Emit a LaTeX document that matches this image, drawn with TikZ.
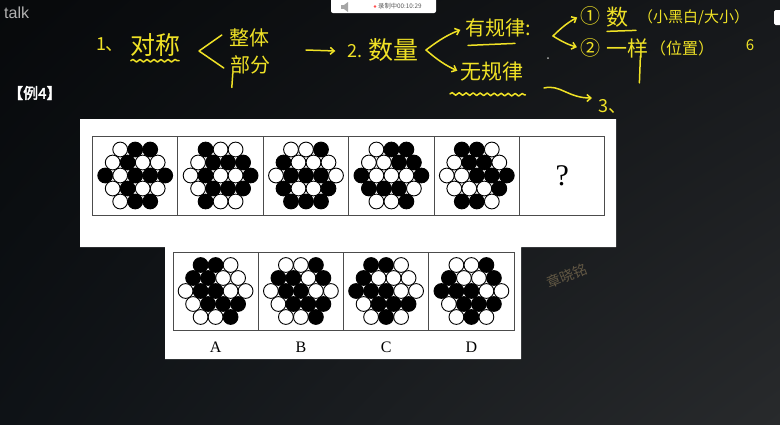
\documentclass[tikz,border=0pt]{standalone}
\usepackage{fontspec}
\setmainfont{Liberation Serif}
\newfontfamily\cjk{Noto Sans CJK SC}
\newfontfamily\cjkbold[FakeBold=2.5]{Noto Sans CJK SC}
\newfontfamily\uifont{Liberation Sans}
\usepackage{tikz}
\usetikzlibrary{calc,arrows.meta,decorations.pathmorphing,shadings}

\definecolor{marker}{RGB}{240,226,38}
\definecolor{stamp}{RGB}{98,88,68}
\definecolor{bgA}{RGB}{7,9,11}
\definecolor{bgB}{RGB}{22,24,27}
\definecolor{bgC}{RGB}{14,18,22}
\definecolor{bgD}{RGB}{40,42,44}

% 19 pebbles round a centre: rows of 3,4,5,4,3
\newcommand\hexdots[6]{%
  \foreach \s [count=\k] in {#2} \node[pebble,\s] (#1-a\k) at ($(#1)+(\k*15-30,-26)$) {};
  \foreach \s [count=\k] in {#3} \node[pebble,\s] (#1-b\k) at ($(#1)+(\k*15-37.5,-13)$) {};
  \foreach \s [count=\k] in {#4} \node[pebble,\s] (#1-c\k) at ($(#1)+(\k*15-45,0)$) {};
  \foreach \s [count=\k] in {#5} \node[pebble,\s] (#1-d\k) at ($(#1)+(\k*15-37.5,13)$) {};
  \foreach \s [count=\k] in {#6} \node[pebble,\s] (#1-e\k) at ($(#1)+(\k*15-30,26)$) {};
}

\begin{document}
\begin{tikzpicture}[x=1pt,y=-1pt]

\tikzset{pebble/.style = {circle,draw,line width=0.9pt,minimum size=14.8pt,inner sep=0pt}}
\tikzset{wh/.style = {fill=white}, bk/.style = {fill=black}}
\tikzset{cell/.style = {draw=black!70,line width=1pt,fill=white,minimum width=85.4pt,minimum height=79pt,inner sep=0pt}}
\tikzset{scrawl/.style = {text=marker,inner sep=0pt,font=\cjk\fontsize{#1}{#1}\selectfont}, scrawl/.default=20}
\tikzset{stroke/.style = {draw=marker,line width=1.5pt,line cap=round,line join=round}}
\tikzset{edge/.style = {stroke,-{Straight Barb[length=4pt,width=7pt]}}}
\tikzset{wavy/.style = {stroke,decorate,decoration={snake,amplitude=1.3pt,segment length=7pt}}}

% backdrop
\shade[upper left=bgA,upper right=bgB,lower left=bgC,lower right=bgD] (0,0) rectangle (780,424);
\useasboundingbox (0,0) rectangle (780,424);

% screen furniture
\node[anchor=west,inner sep=0pt,text=gray!60,font=\uifont\fontsize{16}{16}\selectfont] (app) at (4,13) {talk};
\node[fill=white,rounded corners=2pt,minimum width=105pt,minimum height=18pt,inner sep=0pt] (rec) at (383.5,4) {};
\fill[gray!70] (341,5) rectangle (344,9);
\fill[gray!70] (344,5) -- (348,2) -- (348,12) -- (344,9) -- cycle;
\fill[red!70] (375,6.5) circle (1.4pt);
\node[anchor=west,inner sep=0pt,text=black!65,font=\cjk\fontsize{6.3}{6.3}\selectfont] (clock) at (378,6.5) {录制中00:10:29};
\fill[white,rounded corners=1.5pt] (774,10) rectangle (786,25);
\node[anchor=west,inner sep=0pt,text=white,font=\cjkbold\fontsize{15}{15}\selectfont] (ex) at (8,93) {【例4】};

% the sheet
\fill[white] (80,119) -- (616,119) -- (616,247) -- (521,247) -- (521,359) -- (165,359) -- (165,247) -- (80,247) -- cycle;

% question row
\foreach \name/\x in {q1/135.2,q2/220.6,q3/306,q4/391.4,q5/476.8,q6/562.2}
  \node[cell] (\name) at (\x,175.5) {};
\hexdots{q1}{wh,bk,bk}{wh,bk,wh,wh}{bk,wh,bk,bk,bk}{wh,bk,wh,wh}{wh,bk,bk}
\hexdots{q2}{bk,wh,wh}{wh,bk,bk,bk}{wh,bk,wh,wh,bk}{wh,bk,bk,bk}{bk,wh,wh}
\hexdots{q3}{wh,wh,bk}{bk,wh,wh,wh}{wh,bk,bk,bk,wh}{bk,wh,wh,bk}{bk,bk,bk}
\hexdots{q4}{wh,bk,bk}{wh,wh,bk,bk}{bk,wh,wh,wh,bk}{bk,bk,bk,wh}{wh,wh,bk}
\hexdots{q5}{bk,bk,wh}{wh,bk,bk,wh}{wh,wh,bk,bk,bk}{wh,wh,wh,bk}{bk,bk,wh}
\node[font=\fontsize{30}{30}\selectfont] (ask) at (q6) {?};

% answer row
\foreach \name/\x/\lab in {oa/215.6/A,ob/300.9/B,oc/386.1/C,od/471.4/D}{
  \node[cell,minimum width=85.2pt,minimum height=78pt] (\name) at (\x,291) {};
  \node[font=\fontsize{16}{16}\selectfont] (\name-lab) at (\x,347) {\lab};
}
\hexdots{oa}{bk,bk,wh}{bk,bk,wh,wh}{wh,bk,bk,wh,wh}{wh,bk,bk,bk}{wh,wh,bk}
\hexdots{ob}{wh,wh,bk}{bk,bk,wh,bk}{wh,bk,bk,wh,wh}{wh,bk,bk,bk}{wh,wh,bk}
\hexdots{oc}{bk,bk,wh}{bk,wh,wh,wh}{bk,bk,bk,wh,wh}{wh,bk,bk,bk}{wh,bk,wh}
\hexdots{od}{wh,wh,bk}{bk,wh,wh,bk}{bk,bk,bk,wh,wh}{wh,bk,bk,bk}{wh,bk,wh}

\node[rotate=22,text=stamp,inner sep=0pt,font=\cjk\fontsize{14}{14}\selectfont] (mark) at (567,276) {章晓铭};

% teacher's notes
\node[scrawl=18] (n1) at (110,45) {1、};
\node[scrawl=25] (sym) at (155,45) {对称};
\draw[wavy] ($(sym.south west)+(1,4)$) -- ($(sym.south east)+(-1,4)$);
\coordinate (tip1) at (199,51);
\node[scrawl] (whole) at (249,38) {整体};
\node[scrawl] (part) at (250,65) {部分};
\draw[stroke] ($(whole.west)+(-7,-3)$) -- (tip1) -- ($(part.west)+(-6,3)$);
\draw[stroke] ($(part.south west)+(3,-1)$) -- ++(-1,14);

\coordinate (a0) at (306,50);
\node[scrawl=18] (n2) at (355,51) {2.};
\node[scrawl=25] (qty) at (393,50) {数量};
\draw[edge] (a0) -- ($(n2.west)+(-12,0)$);

\coordinate (fork2) at (426,50);
\node[scrawl,anchor=west] (reg) at (465,28) {有规律:};
\node[scrawl=21,anchor=west] (irr) at (460,72) {无规律};
\draw[edge,shorten >=5pt] (fork2) to[bend left=8] (reg.west);
\draw[edge,shorten >=3pt] (fork2) to[bend right=8] (irr.west);
\draw[stroke] ($(reg.south west)+(3,8)$) -- ++(47,-2);
\draw[wavy] ($(irr.south west)+(-10,12)$) -- ($(irr.south east)+(2,13)$);

\coordinate (fork3) at (553,36);
\node[scrawl=20] (one) at (590,16) {①};
\node[scrawl=22,anchor=west] (num) at (606,17) {数};
\node[scrawl=15,anchor=west] (hint) at (638,17) {（小黑白/大小）};
\draw[stroke] ($(num.south west)+(1,4)$) -- ++(29,-1);
\node[scrawl=20] (two) at (590,48) {②};
\node[scrawl=21,anchor=west] (same) at (606,48) {一样};
\node[scrawl=16,anchor=west] (where) at (650,48) {（位置）};
\node[scrawl=15] (six) at (750,45) {6};
\draw[edge,shorten >=3pt] (fork3) to[bend left=8] (one.west);
\draw[edge,shorten >=3pt] (fork3) to[bend right=8] (two.west);
\draw[stroke] ($(same.south east)+(-8,-2)$) -- ++(-1,27);

\coordinate (tail3) at (544,88);
\node[scrawl=18,anchor=west] (three) at (598,106) {3、};
\draw[edge] (tail3) .. controls (560,84) and (568,98) .. ($(three.west)+(-6,-8)$);
\fill[gray!60] (548,58) circle (1pt);

\end{tikzpicture}
\end{document}
